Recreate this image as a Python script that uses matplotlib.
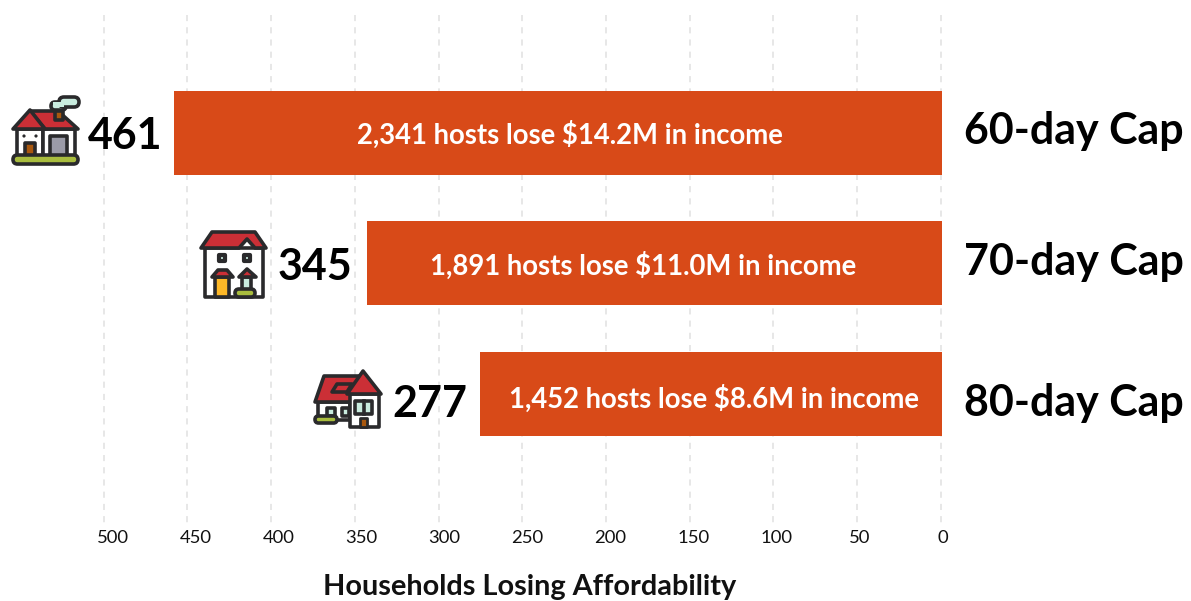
import matplotlib
matplotlib.use("Agg")
import matplotlib.pyplot as plt
from matplotlib.patches import Polygon, Rectangle, FancyBboxPatch, Circle

# data
caps = ["60-day Cap", "70-day Cap", "80-day Cap"]
households = [461, 345, 277]
hosts = ["2,341", "1,891", "1,452"]
income = ["$14.2M", "$11.0M", "$8.6M"]
ticks = [500, 450, 400, 350, 300, 250, 200, 150, 100, 50, 0]

W, H = 1191, 601
ORANGE = "#d84a18"
DARK = "#2a2a2c"
RED = "#cb2f36"
GREEN = "#a9bd3e"
MINT = "#c9ecdf"
BROWN = "#a9580f"
GREY = "#9b9ba8"
YELLOW = "#fdb827"

plt.rcParams["font.family"] = ["Lato", "DejaVu Sans"]

fig = plt.figure(figsize=(W / 100, H / 100), dpi=100, facecolor="white")


def scaled_axes(zero_px, px_per_unit):
    # whole-figure axes, x runs right to left, y is the row number
    a = fig.add_axes([0, 0, 1, 1])
    a.set_xlim(zero_px / px_per_unit, (zero_px - W) / px_per_unit)
    a.set_ylim((H - 133) / 130.75, -133 / 130.75)
    a.axis("off")
    a.patch.set_alpha(0)
    return a


# the gridlines and tick labels sit on slightly different scales than the bars
grid_ax = scaled_axes(940.7, 1.674)
tick_ax = scaled_axes(942.4, 1.659)
ax = scaled_axes(942, 1.667)
px = fig.add_axes([0, 0, 1, 1])
px.set_xlim(0, W)
px.set_ylim(H, 0)
px.axis("off")
px.patch.set_alpha(0)

row_top = (15 - 133) / 130.75
row_bottom = (523 - 133) / 130.75
grid_ax.vlines(ticks, row_top, row_bottom, color="#e0e0e0", lw=1.1, linestyles=(0, (4, 4)))

tick_y = (538 - 133) / 130.75
for t in ticks:
    tick_ax.text(t, tick_y, str(t), ha="center", va="center", fontsize=13.3, color="#111111")

rows = [0, 0.994, 2]
ax.barh(rows, households, height=84 / 130.75, color=ORANGE)

# pixel nudges for the text in each row
inner_x = [570, 643, 714]
inner_y = [135, 266, 399]
value_dx = [-8, -10.5, -9]
value_dy = [-2, -3, -7]
cap_y = [131, 262, 403]

for i, n in enumerate(households):
    px.text(inner_x[i], inner_y[i], f"{hosts[i]} hosts lose {income[i]} in income",
            ha="center", va="center", color="white", fontsize=19.8, fontweight="bold")
    ax.annotate(str(n), (n, rows[i]), xytext=(value_dx[i], value_dy[i]), textcoords="offset points",
                ha="right", va="center", fontsize=31, fontweight="bold", color="black")
    px.text(1184, cap_y[i], caps[i], ha="right", va="center", fontsize=31, fontweight="bold", color="black")

px.text(530, 587, "Households Losing Affordability", ha="center", va="center",
        fontsize=20.8, fontweight="bold", color="#111111")


# icons
def poly(points, fc, z=3):
    px.add_patch(Polygon(points, closed=True, fc=fc, ec=DARK, lw=2.6, joinstyle="round", zorder=z))


def rect(x0, y0, x1, y1, fc, z=3, lw=2.6):
    px.add_patch(Rectangle((x0, y0), x1 - x0, y1 - y0, fc=fc, ec=DARK, lw=lw, joinstyle="round", zorder=z))


def pill(x0, y0, x1, y1, fc, z=5):
    r = (y1 - y0) / 2
    px.add_patch(FancyBboxPatch((x0 + r, y0 + r), x1 - x0 - 2 * r, 0.01,
                                boxstyle=f"round,pad={r}", fc=fc, ec=DARK, lw=2.6, zorder=z))


# 60-day house
pill(51, 102, 66, 110, MINT, 2)
pill(59, 97, 79, 107, MINT, 2)
px.add_patch(Rectangle((53, 102), 11, 5, fc=MINT, ec="none", zorder=3))
rect(17, 129, 43, 156, "white")
rect(43, 129, 75, 156, "white")
poly([(30, 111), (58, 111), (78, 129), (45, 129)], RED, 4)
poly([(30, 110), (13, 129), (45, 129)], RED, 4)
rect(55, 111, 63, 120, BROWN, 5)
rect(50, 136, 67, 156, GREY, 4)
rect(25, 143, 35, 156, BROWN, 4)
px.add_patch(Circle((24, 136), 1.6, fc=DARK, ec="none", zorder=4))
px.add_patch(Circle((36, 136), 1.6, fc=DARK, ec="none", zorder=4))
pill(13, 155, 78, 164, GREEN)

# 70-day house
rect(205, 248, 263, 297, "white")
poly([(201, 248), (212, 232), (255, 232), (266, 248), (255, 248), (247, 239), (239, 248)], RED, 4)
rect(219, 255, 225, 261, MINT, 4, lw=3)
rect(244, 255, 250, 261, MINT, 4, lw=3)
rect(215, 277, 229, 297, YELLOW, 4)
poly([(212, 277), (218, 270), (227, 270), (233, 277)], RED, 5)
rect(242, 277, 251, 291, MINT, 4)
poly([(247, 269), (239, 277), (256, 277)], RED, 5)
pill(235, 289, 255, 297, GREEN)

# 80-day house
rect(318, 402, 350, 420, "white")
poly([(324, 376), (360, 376), (350, 402), (315, 402)], RED)
poly([(337, 384), (352, 384), (347, 392), (332, 392)], RED, 4)
rect(327, 408, 335, 416, MINT, 4)
rect(342, 408, 349, 416, MINT, 4)
pill(315, 416, 337, 423, GREEN)
rect(350, 394, 379, 427, "white", 5)
poly([(363, 371), (347, 394), (381, 394)], RED, 6)
rect(355, 401, 372, 414, MINT, 6)
px.plot([363.5, 363.5], [401, 414], color=DARK, lw=2.6, zorder=7)
rect(360, 418, 367, 427, BROWN, 6, lw=2)

fig.savefig("out.png", dpi=100)
